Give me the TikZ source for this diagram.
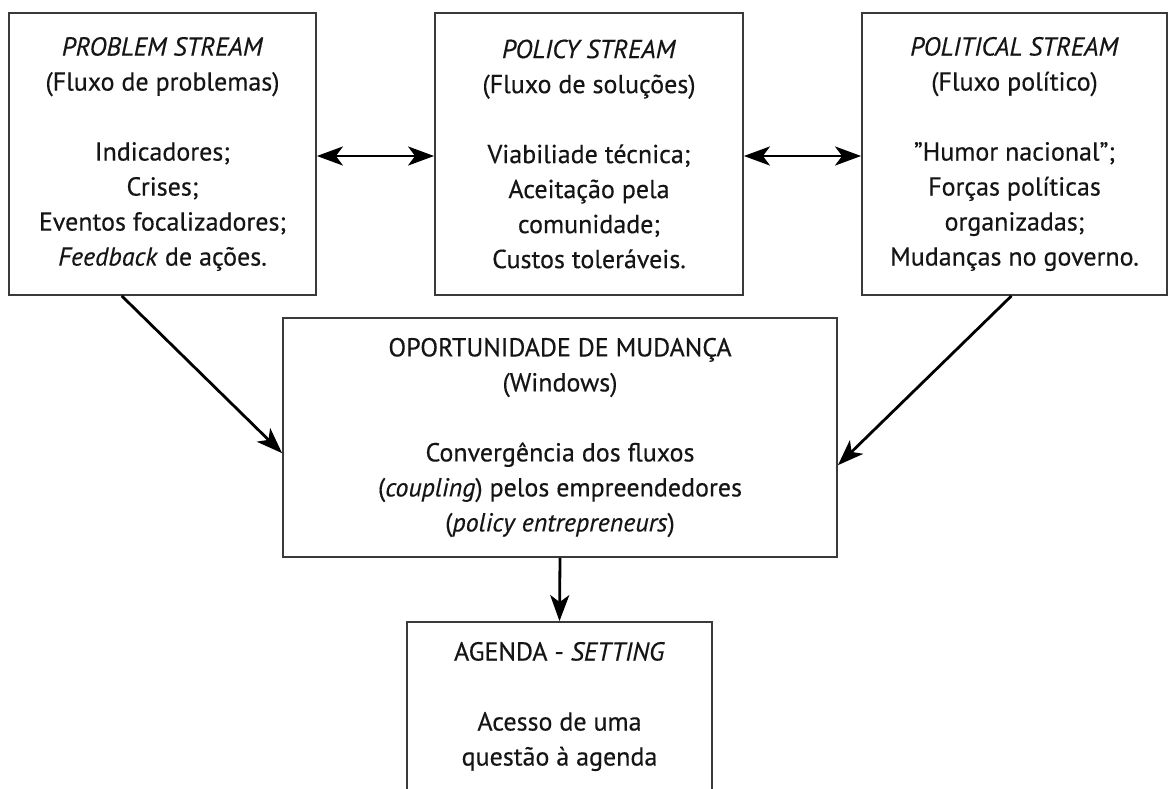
\documentclass[tikz,border=0pt]{standalone}
\usepackage{fontspec}
\setmainfont{PT Sans}[FakeBold=0.4]
\usetikzlibrary{arrows.meta,calc}
\definecolor{boxgray}{HTML}{3A3A3A}
\definecolor{txt}{HTML}{151515}
\begin{document}
\begin{tikzpicture}[x=1pt,y=-1pt,
  box/.style={draw=boxgray, line width=1.8pt, align=center, inner sep=0pt,
    font=\fontsize{26}{35}\selectfont, text=txt},
  arr/.style={line width=2.8pt, draw=black,
    -{Stealth[length=26pt,width=19pt,inset=7pt]}},
  darr/.style={line width=2.8pt, draw=black,
    {Stealth[length=26pt,width=19pt,inset=7pt]}-{Stealth[length=26pt,width=19pt,inset=7pt]}}]
\useasboundingbox (0,0) rectangle (1168,788);
\clip (0,0) rectangle (1168,788);
\fill[white] (0,0) rectangle (1168,788);

\node[box, minimum width=307pt, minimum height=282pt] (b1) at (162.5,154)
  {\textit{PROBLEM STREAM}\\(Fluxo de problemas)\\[35pt]Indicadores;\\Crises;\\Eventos focalizadores;\\\textit{Feedback} de ações.};
\node[box, minimum width=308pt, minimum height=282pt] (b2) at (589,154)
  {\textit{POLICY STREAM}\\(Fluxo de soluções)\\[35pt]Viabiliade técnica;\\Aceitação pela\\comunidade;\\Custos toleráveis.};
\node[box, minimum width=305pt, minimum height=282pt] (b3) at (1014.5,154)
  {\textit{POLITICAL STREAM}\\(Fluxo político)\\[35pt]”Humor nacional”;\\Forças políticas\\organizadas;\\Mudanças no governo.};
\node[box, minimum width=554pt, minimum height=239pt] (mid) at (560,437.5)
  {OPORTUNIDADE DE MUDANÇA\\(Windows)\\[35pt]Convergência dos fluxos\\(\textit{coupling}) pelos empreendedores\\(\textit{policy entrepreneurs})};
\node[box, minimum width=305pt, minimum height=169pt] (ag) at (559.5,706.5)
  {AGENDA - \textit{SETTING}\\[35pt]Acesso de uma\\questão à agenda};

\coordinate (l1) at ($(b1.south west)!0.368!(b1.south east)$);
\coordinate (l2) at ($(mid.north west)!0.565!(mid.south west)$);
\coordinate (r1) at ($(b3.south west)!0.49!(b3.south east)$);
\coordinate (r2) at ($(mid.north east)!0.615!(mid.south east)$);

\draw[darr] ([yshift=-2pt]b1.east) -- ([yshift=-2pt]b2.west);
\draw[darr] ([yshift=-2pt]b2.east) -- ([yshift=-2pt]b3.west);
\draw[arr] (l1) -- (l2);
\draw[arr] (r1) -- (r2);
\draw[arr] (mid.south) -- (ag.north);
\end{tikzpicture}
\end{document}
